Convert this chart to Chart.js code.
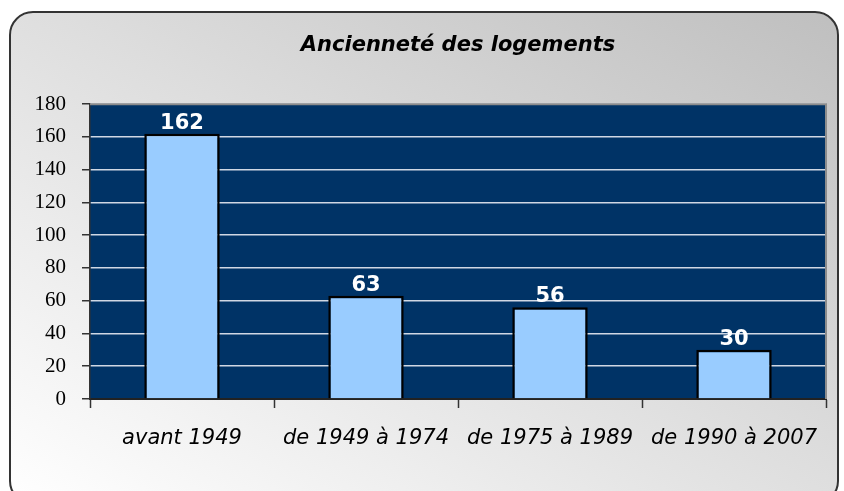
<!DOCTYPE html>
<html lang="fr">
<head>
<meta charset="utf-8">
<title>Ancienneté des logements</title>
<script src="https://cdn.jsdelivr.net/npm/chart.js@4/dist/chart.umd.min.js"></script>
<style>
    html, body { margin: 0; padding: 0; background: #ffffff; overflow: hidden; }
    #frame {
        position: absolute;
        left: 9px; top: 11px;
        width: 826px; height: 490px;
        border: 2px solid #333333;
        border-radius: 24px;
        background: linear-gradient(to bottom left, #bfbfbf 0%, #dcdcdc 45%, #ffffff 100%);
    }
    #wrap { position: absolute; left: 0; top: 0; width: 844px; height: 491px; }
</style>
</head>
<body>
<div id="frame"></div>
<div id="wrap"><canvas id="ageChart" width="844" height="491"></canvas></div>
<script>
// Housing age data
const periods = ["avant 1949", "de 1949 à 1974", "de 1975 à 1989", "de 1990 à 2007"];
const dwellings = [162, 63, 56, 30];
const yTicks = [0, 20, 40, 60, 80, 100, 120, 140, 160, 180];

// Navy plot background + grey frame around the plot area
const plotBackground = {
    id: "plotBackground",
    beforeDraw(chart) {
        const { ctx, chartArea: a } = chart;
        ctx.save();
        ctx.fillStyle = "#003366";
        ctx.fillRect(a.left, a.top, a.right - a.left, a.bottom - a.top);
        ctx.restore();
    },
    afterDatasetsDraw(chart) {
        const { ctx, chartArea: a } = chart;
        ctx.save();
        ctx.strokeStyle = "#8c8c8c";
        ctx.lineWidth = 2;
        ctx.beginPath();
        ctx.moveTo(a.left, a.top);
        ctx.lineTo(a.right, a.top);
        ctx.lineTo(a.right, a.bottom);
        ctx.stroke();
        ctx.restore();
    }
};

// White value labels above each bar
const valueLabels = {
    id: "valueLabels",
    afterDatasetsDraw(chart) {
        const { ctx } = chart;
        const meta = chart.getDatasetMeta(0);
        ctx.save();
        ctx.fillStyle = "#ffffff";
        ctx.font = "bold 21px 'DejaVu Sans', Verdana, sans-serif";
        ctx.textAlign = "center";
        ctx.textBaseline = "alphabetic";
        meta.data.forEach((bar, i) => {
            ctx.fillText(String(dwellings[i]), bar.x, bar.y - 5);
        });
        ctx.restore();
    }
};

const ctx = document.getElementById("ageChart").getContext("2d");
new Chart(ctx, {
    type: "bar",
    data: {
        labels: periods,
        datasets: [{
            data: dwellings,
            backgroundColor: "#99ccff",
            borderColor: "#000000",
            borderWidth: 2.5,
            categoryPercentage: 1,
            barPercentage: 0.41
        }]
    },
    options: {
        responsive: false,
        animation: false,
        layout: { padding: { left: 0, right: 18, top: 0, bottom: 0 } },
        plugins: {
            legend: { display: false },
            tooltip: { enabled: false },
            title: {
                display: true,
                fullSize: false,
                text: "Ancienneté des logements",
                color: "#000000",
                font: { family: "'DejaVu Sans', Verdana, sans-serif", size: 21, style: "italic", weight: "bold" },
                padding: { top: 33, bottom: 46 }
            }
        },
        scales: {
            x: {
                grid: {
                    offset: true,
                    drawOnChartArea: false,
                    tickLength: 9,
                    tickColor: "#333333",
                    tickWidth: 1.5
                },
                border: { color: "#222222", width: 2 },
                ticks: {
                    color: "#000000",
                    padding: 18,
                    maxRotation: 0,
                    font: { family: "'DejaVu Sans', Verdana, sans-serif", size: 21, style: "italic" }
                },
                afterFit: s => { s.height = 92; }
            },
            y: {
                min: 0,
                max: 180,
                afterBuildTicks: s => { s.ticks = yTicks.map(v => ({ value: v })); },
                grid: {
                    color: "#d0d8e4",
                    lineWidth: 1.5,
                    tickLength: 8,
                    tickColor: "#333333",
                    tickWidth: 1.5
                },
                border: { color: "#333333", width: 1.5 },
                ticks: {
                    color: "#000000",
                    padding: 16,
                    font: { family: "'Liberation Serif', 'Times New Roman', serif", size: 21 }
                },
                afterFit: s => { s.width = 90; }
            }
        }
    },
    plugins: [plotBackground, valueLabels]
});
</script>
</body>
</html>
